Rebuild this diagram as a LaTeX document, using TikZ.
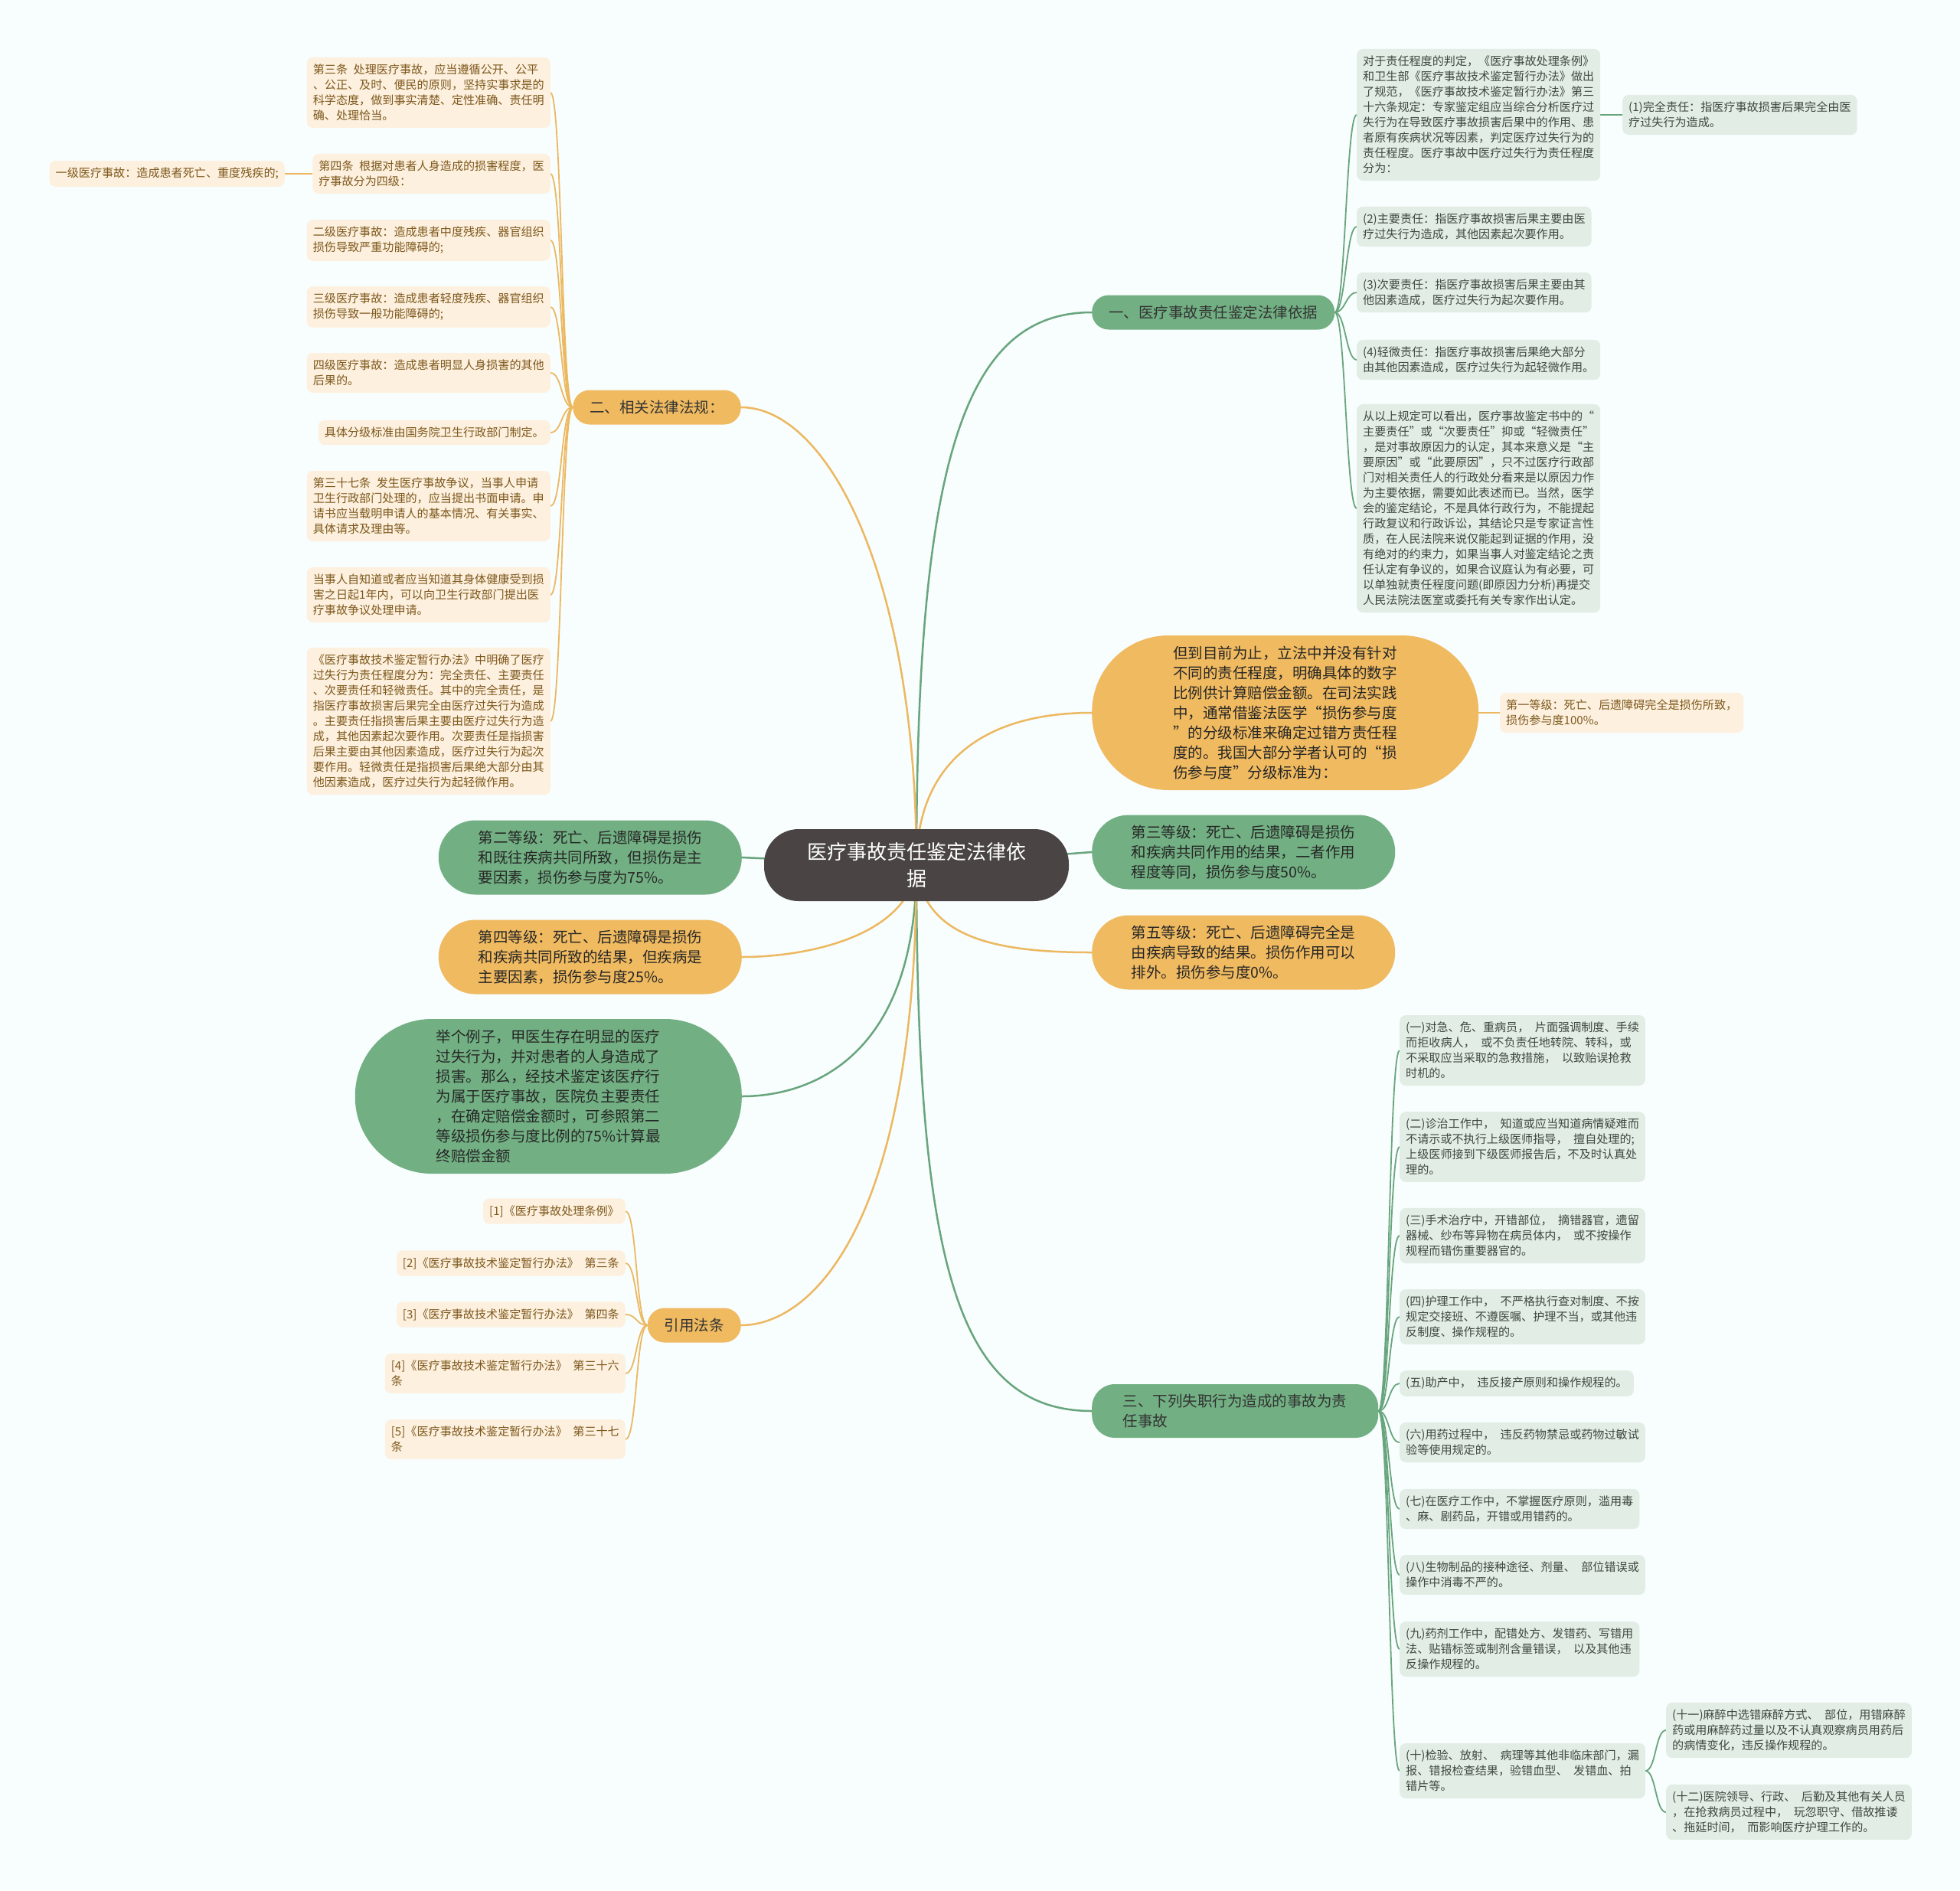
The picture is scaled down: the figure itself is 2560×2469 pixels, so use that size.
\documentclass[tikz,border=0pt]{standalone}
\usepackage{fontspec}
\setmainfont{Noto Sans CJK SC}
\usetikzlibrary{positioning,backgrounds}

\tikzset{
  raiz/.style={fill=centro, text=white, rounded corners=45pt, minimum width=398pt, minimum height=94pt, align=center, font=\fontsize{26}{35}\selectfont},
  rama/.style={rounded corners=22pt, inner xsep=22pt, minimum height=45pt, align=left, text=black!80, font=\fontsize{19.5}{26}\selectfont},
  tema/.style={rounded corners=48pt, minimum width=396pt, minimum height=97pt, align=left, text=black!85, font=\fontsize{19.5}{26}\selectfont},
  temagrande/.style={tema, rounded corners=100pt, minimum width=505pt, minimum height=202pt},
  hojaverde/.style={fill=hojav, text=textov, rounded corners=8pt, inner xsep=8pt, inner ysep=9pt, align=left, font={\fontsize{15.1}{20}\selectfont\spaceskip=0.5em\relax}},
  hojanaranja/.style={hojaverde, fill=hojan, text=texton},
  conv/.style={draw=lineav, line width=2.5pt},
  conn/.style={draw=linean, line width=2.5pt},
  subv/.style={draw=lineav, line width=1.8pt},
  subn/.style={draw=linean, line width=1.8pt}
}

\begin{document}
\begin{tikzpicture}[x=1pt, y=-1pt]
    % Colores
    \definecolor{fondo}{RGB}{248,253,254}
    \definecolor{centro}{RGB}{74,68,68}
    \definecolor{verde}{RGB}{114,176,131}
    \definecolor{naranja}{RGB}{240,186,96}
    \definecolor{hojav}{RGB}{226,237,229}
    \definecolor{hojan}{RGB}{253,240,222}
    \definecolor{textov}{RGB}{62,72,64}
    \definecolor{texton}{RGB}{125,88,28}
    \definecolor{lineav}{RGB}{104,165,124}
    \definecolor{linean}{RGB}{236,184,96}

    \useasboundingbox (0,0) rectangle (2560,2469);

    % Nodo central
    \node[raiz] (raiz) at (1197,1130) {医疗事故责任鉴定法律依\\据};

    % Lado derecho
    \node[rama, fill=verde, anchor=west] (r1) at (1426,408) {一、医疗事故责任鉴定法律依据};
    \node[hojaverde, anchor=west] (r1a) at (1772,150) {对于责任程度的判定，《医疗事故处理条例》\\和卫生部《医疗事故技术鉴定暂行办法》做出\\了规范，《医疗事故技术鉴定暂行办法》第三\\十六条规定：专家鉴定组应当综合分析医疗过\\失行为在导致医疗事故损害后果中的作用、患\\者原有疾病状况等因素，判定医疗过失行为的\\责任程度。医疗事故中医疗过失行为责任程度\\分为：};
    \node[hojaverde, anchor=west] (r1a1) at (2119,150) {(1)完全责任：指医疗事故损害后果完全由医\\疗过失行为造成。};
    \node[hojaverde, anchor=west] (r1b) at (1772,296) {(2)主要责任：指医疗事故损害后果主要由医\\疗过失行为造成，其他因素起次要作用。};
    \node[hojaverde, anchor=west] (r1c) at (1772,382) {(3)次要责任：指医疗事故损害后果主要由其\\他因素造成，医疗过失行为起次要作用。};
    \node[hojaverde, anchor=west] (r1d) at (1772,470) {(4)轻微责任：指医疗事故损害后果绝大部分\\由其他因素造成，医疗过失行为起轻微作用。};
    \node[hojaverde, anchor=west] (r1e) at (1772,664) {从以上规定可以看出，医疗事故鉴定书中的“\\主要责任”或“次要责任”抑或“轻微责任”\\，是对事故原因力的认定，其本来意义是“主\\要原因”或“此要原因”，只不过医疗行政部\\门对相关责任人的行政处分看来是以原因力作\\为主要依据，需要如此表述而已。当然，医学\\会的鉴定结论，不是具体行政行为，不能提起\\行政复议和行政诉讼，其结论只是专家证言性\\质，在人民法院来说仅能起到证据的作用，没\\有绝对的约束力，如果当事人对鉴定结论之责\\任认定有争议的，如果合议庭认为有必要，可\\以单独就责任程度问题(即原因力分析)再提交\\人民法院法医室或委托有关专家作出认定。};

    \node[temagrande, fill=naranja, anchor=west] (grado) at (1426,931) {但到目前为止，立法中并没有针对\\不同的责任程度，明确具体的数字\\比例供计算赔偿金额。在司法实践\\中，通常借鉴法医学“损伤参与度\\”的分级标准来确定过错方责任程\\度的。我国大部分学者认可的“损\\伤参与度”分级标准为：};
    \node[hojanaranja, anchor=west] (g1) at (1959,931) {第一等级：死亡、后遗障碍完全是损伤所致，\\损伤参与度100\%。};

    \node[tema, fill=verde, anchor=west] (g3) at (1426,1113) {第三等级：死亡、后遗障碍是损伤\\和疾病共同作用的结果，二者作用\\程度等同，损伤参与度50\%。};
    \node[tema, fill=naranja, anchor=west] (g5) at (1426,1244) {第五等级：死亡、后遗障碍完全是\\由疾病导致的结果。损伤作用可以\\排外。损伤参与度0\%。};

    \node[rama, fill=verde, anchor=west, minimum width=374pt, minimum height=70pt, rounded corners=30pt] (r3) at (1426,1843) {三、下列失职行为造成的事故为责\\任事故};
    \node[hojaverde, anchor=west] (f1) at (1828,1372) {(一)对急、危、重病员， 片面强调制度、手续\\而拒收病人， 或不负责任地转院、转科，或\\不采取应当采取的急救措施， 以致贻误抢救\\时机的。};
    \node[hojaverde, anchor=west] (f2) at (1828,1498) {(二)诊治工作中， 知道或应当知道病情疑难而\\不请示或不执行上级医师指导， 擅自处理的;\\上级医师接到下级医师报告后，不及时认真处\\理的。};
    \node[hojaverde, anchor=west] (f3) at (1828,1614) {(三)手术治疗中，开错部位， 摘错器官，遗留\\器械、纱布等异物在病员体内， 或不按操作\\规程而错伤重要器官的。};
    \node[hojaverde, anchor=west] (f4) at (1828,1720) {(四)护理工作中， 不严格执行查对制度、不按\\规定交接班、不遵医嘱、护理不当，或其他违\\反制度、操作规程的。};
    \node[hojaverde, anchor=west] (f5) at (1828,1807) {(五)助产中， 违反接产原则和操作规程的。};
    \node[hojaverde, anchor=west] (f6) at (1828,1884) {(六)用药过程中， 违反药物禁忌或药物过敏试\\验等使用规定的。};
    \node[hojaverde, anchor=west] (f7) at (1828,1971) {(七)在医疗工作中，不掌握医疗原则，滥用毒\\、麻、剧药品，开错或用错药的。};
    \node[hojaverde, anchor=west] (f8) at (1828,2057) {(八)生物制品的接种途径、剂量、 部位错误或\\操作中消毒不严的。};
    \node[hojaverde, anchor=west] (f9) at (1828,2154) {(九)药剂工作中，配错处方、发错药、写错用\\法、贴错标签或制剂含量错误， 以及其他违\\反操作规程的。};
    \node[hojaverde, anchor=west] (f10) at (1828,2313) {(十)检验、放射、 病理等其他非临床部门，漏\\报、错报检查结果，验错血型、 发错血、拍\\错片等。};
    \node[hojaverde, anchor=west] (f11) at (2176,2260) {(十一)麻醉中选错麻醉方式、 部位，用错麻醉\\药或用麻醉药过量以及不认真观察病员用药后\\的病情变化，违反操作规程的。};
    \node[hojaverde, anchor=west] (f12) at (2176,2367) {(十二)医院领导、行政、 后勤及其他有关人员\\，在抢救病员过程中， 玩忽职守、借故推诿\\、拖延时间， 而影响医疗护理工作的。};

    % Lado izquierdo
    \node[rama, fill=naranja, anchor=east] (ley) at (968,532) {二、相关法律法规：};
    \node[hojanaranja, anchor=east] (l1) at (719,121) {第三条 处理医疗事故，应当遵循公开、公平\\、公正、及时、便民的原则，坚持实事求是的\\科学态度，做到事实清楚、定性准确、责任明\\确、处理恰当。};
    \node[hojanaranja, anchor=east] (l2) at (719,227) {第四条 根据对患者人身造成的损害程度，医\\疗事故分为四级：};
    \node[hojanaranja, anchor=east] (l2a) at (372,227) {一级医疗事故：造成患者死亡、重度残疾的;};
    \node[hojanaranja, anchor=east] (l3) at (719,314) {二级医疗事故：造成患者中度残疾、器官组织\\损伤导致严重功能障碍的;};
    \node[hojanaranja, anchor=east] (l4) at (719,401) {三级医疗事故：造成患者轻度残疾、器官组织\\损伤导致一般功能障碍的;};
    \node[hojanaranja, anchor=east] (l5) at (719,487) {四级医疗事故：造成患者明显人身损害的其他\\后果的。};
    \node[hojanaranja, anchor=east] (l6) at (719,565) {具体分级标准由国务院卫生行政部门制定。};
    \node[hojanaranja, anchor=east] (l7) at (719,661) {第三十七条 发生医疗事故争议，当事人申请\\卫生行政部门处理的，应当提出书面申请。申\\请书应当载明申请人的基本情况、有关事实、\\具体请求及理由等。};
    \node[hojanaranja, anchor=east] (l8) at (719,777) {当事人自知道或者应当知道其身体健康受到损\\害之日起1年内，可以向卫生行政部门提出医\\疗事故争议处理申请。};
    \node[hojanaranja, anchor=east] (l9) at (719,942) {《医疗事故技术鉴定暂行办法》中明确了医疗\\过失行为责任程度分为：完全责任、主要责任\\、次要责任和轻微责任。其中的完全责任，是\\指医疗事故损害后果完全由医疗过失行为造成\\。主要责任指损害后果主要由医疗过失行为造\\成，其他因素起次要作用。次要责任是指损害\\后果主要由其他因素造成，医疗过失行为起次\\要作用。轻微责任是指损害后果绝大部分由其\\他因素造成，医疗过失行为起轻微作用。};

    \node[tema, fill=verde, anchor=east] (g2) at (969,1120) {第二等级：死亡、后遗障碍是损伤\\和既往疾病共同所致，但损伤是主\\要因素，损伤参与度为75\%。};
    \node[tema, fill=naranja, anchor=east] (g4) at (969,1250) {第四等级：死亡、后遗障碍是损伤\\和疾病共同所致的结果，但疾病是\\主要因素，损伤参与度25\%。};
    \node[temagrande, fill=verde, anchor=east] (ejemplo) at (969,1432) {举个例子，甲医生存在明显的医疗\\过失行为，并对患者的人身造成了\\损害。那么，经技术鉴定该医疗行\\为属于医疗事故，医院负主要责任\\，在确定赔偿金额时，可参照第二\\等级损伤参与度比例的75\%计算最\\终赔偿金额};

    \node[rama, fill=naranja, anchor=east] (cita) at (968,1731) {引用法条};
    \node[hojanaranja, anchor=east] (c1) at (817,1582) {[1]《医疗事故处理条例》};
    \node[hojanaranja, anchor=east] (c2) at (817,1650) {[2]《医疗事故技术鉴定暂行办法》 第三条};
    \node[hojanaranja, anchor=east] (c3) at (817,1717) {[3]《医疗事故技术鉴定暂行办法》 第四条};
    \node[hojanaranja, anchor=east] (c4) at (817,1794) {[4]《医疗事故技术鉴定暂行办法》 第三十六\\条};
    \node[hojanaranja, anchor=east] (c5) at (817,1880) {[5]《医疗事故技术鉴定暂行办法》 第三十七\\条};

    \begin{scope}[on background layer]
    \fill[fondo] (0,0) rectangle (2560,2469);

    % Conectores principales
    \draw[conv] (raiz.center) .. controls +(0,-530) and +(-166,0) .. (r1.west);
    \draw[conn] (raiz.center) .. controls +(0,-130) and +(-146,0) .. (grado.west);
    \draw[conv] (raiz.center) -- (g3.west);
    \draw[conn] (raiz.center) .. controls +(8,95) and +(-126,0) .. (g5.west);
    \draw[conv] (raiz.center) .. controls +(0,520) and +(-176,0) .. (r3.west);
    \draw[conn] (raiz.center) .. controls +(0,-380) and +(112,0) .. (ley.east);
    \draw[conv] (raiz.center) -- (g2.east);
    \draw[conn] (raiz.center) .. controls +(-7,90) and +(91,0) .. (g4.east);
    \draw[conv] (raiz.center) .. controls +(0,250) and +(91,0) .. (ejemplo.east);
    \draw[conn] (raiz.center) .. controls +(0,470) and +(92,0) .. (cita.east);

    % Ramas del primer punto
    \draw[subv] (r1.east) .. controls +(14,0) and +(-14,0) .. (r1a.west);
    \draw[subv] (r1.east) .. controls +(14,0) and +(-14,0) .. (r1b.west);
    \draw[subv] (r1.east) .. controls +(14,0) and +(-14,0) .. (r1c.west);
    \draw[subv] (r1.east) .. controls +(14,0) and +(-14,0) .. (r1d.west);
    \draw[subv] (r1.east) .. controls +(14,0) and +(-14,0) .. (r1e.west);
    \draw[subv] (r1a.east) -- (r1a1.west);
    \draw[subn] (grado.east) -- (g1.west);

    % Ramas del tercer punto
    \draw[subv] (r3.east) .. controls +(14,0) and +(-14,0) .. (f1.west);
    \draw[subv] (r3.east) .. controls +(14,0) and +(-14,0) .. (f2.west);
    \draw[subv] (r3.east) .. controls +(14,0) and +(-14,0) .. (f3.west);
    \draw[subv] (r3.east) .. controls +(14,0) and +(-14,0) .. (f4.west);
    \draw[subv] (r3.east) .. controls +(14,0) and +(-14,0) .. (f5.west);
    \draw[subv] (r3.east) .. controls +(14,0) and +(-14,0) .. (f6.west);
    \draw[subv] (r3.east) .. controls +(14,0) and +(-14,0) .. (f7.west);
    \draw[subv] (r3.east) .. controls +(14,0) and +(-14,0) .. (f8.west);
    \draw[subv] (r3.east) .. controls +(14,0) and +(-14,0) .. (f9.west);
    \draw[subv] (r3.east) .. controls +(14,0) and +(-14,0) .. (f10.west);
    \draw[subv] (f10.east) .. controls +(14,0) and +(-14,0) .. (f11.west);
    \draw[subv] (f10.east) .. controls +(14,0) and +(-14,0) .. (f12.west);

    % Ramas de las leyes
    \draw[subn] (ley.west) .. controls +(-15,0) and +(15,0) .. (l1.east);
    \draw[subn] (ley.west) .. controls +(-15,0) and +(15,0) .. (l2.east);
    \draw[subn] (ley.west) .. controls +(-15,0) and +(15,0) .. (l3.east);
    \draw[subn] (ley.west) .. controls +(-15,0) and +(15,0) .. (l4.east);
    \draw[subn] (ley.west) .. controls +(-15,0) and +(15,0) .. (l5.east);
    \draw[subn] (ley.west) .. controls +(-15,0) and +(15,0) .. (l6.east);
    \draw[subn] (ley.west) .. controls +(-15,0) and +(15,0) .. (l7.east);
    \draw[subn] (ley.west) .. controls +(-15,0) and +(15,0) .. (l8.east);
    \draw[subn] (ley.west) .. controls +(-15,0) and +(15,0) .. (l9.east);
    \draw[subn] (l2.west) -- (l2a.east);

    % Ramas de las citas
    \draw[subn] (cita.west) .. controls +(-15,0) and +(15,0) .. (c1.east);
    \draw[subn] (cita.west) .. controls +(-15,0) and +(15,0) .. (c2.east);
    \draw[subn] (cita.west) .. controls +(-15,0) and +(15,0) .. (c3.east);
    \draw[subn] (cita.west) .. controls +(-15,0) and +(15,0) .. (c4.east);
    \draw[subn] (cita.west) .. controls +(-15,0) and +(15,0) .. (c5.east);
    \end{scope}
\end{tikzpicture}
\end{document}
